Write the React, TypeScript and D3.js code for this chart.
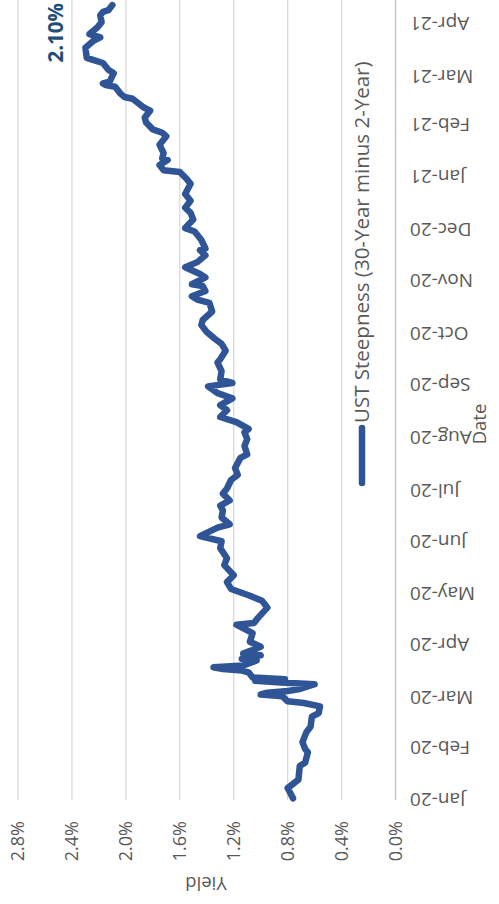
import React, { useEffect, useRef } from 'react';
import * as d3 from 'd3';

// 30-Year minus 2-Year UST spread (percent)
const dates = [
    '2020-01-02', '2020-01-08', '2020-01-13', '2020-01-21', '2020-01-23', '2020-01-29', '2020-01-31',
    '2020-02-04', '2020-02-10', '2020-02-13', '2020-02-19', '2020-02-21', '2020-02-25', '2020-02-27', '2020-02-28',
    '2020-03-02', '2020-03-03', '2020-03-04', '2020-03-05', '2020-03-06', '2020-03-09', '2020-03-10', '2020-03-11',
    '2020-03-12', '2020-03-13', '2020-03-16', '2020-03-17', '2020-03-18', '2020-03-19', '2020-03-20', '2020-03-23',
    '2020-03-24', '2020-03-26', '2020-03-27', '2020-03-31',
    '2020-04-03', '2020-04-08', '2020-04-13', '2020-04-14', '2020-04-17', '2020-04-23', '2020-04-27', '2020-04-30',
    '2020-05-04', '2020-05-08', '2020-05-12', '2020-05-18', '2020-05-22', '2020-05-28',
    '2020-06-01', '2020-06-04', '2020-06-09', '2020-06-11', '2020-06-15', '2020-06-19', '2020-06-22', '2020-06-25', '2020-06-29',
    '2020-07-02', '2020-07-07', '2020-07-10', '2020-07-14', '2020-07-20', '2020-07-22', '2020-07-27', '2020-07-31',
    '2020-08-04', '2020-08-06', '2020-08-10', '2020-08-13', '2020-08-17', '2020-08-20', '2020-08-24', '2020-08-27', '2020-08-31',
    '2020-09-02', '2020-09-04', '2020-09-09', '2020-09-14', '2020-09-16', '2020-09-21', '2020-09-25', '2020-09-28',
    '2020-10-02', '2020-10-06', '2020-10-09', '2020-10-14', '2020-10-19', '2020-10-21', '2020-10-23', '2020-10-26', '2020-10-29', '2020-10-30',
    '2020-11-03', '2020-11-05', '2020-11-09', '2020-11-12', '2020-11-16', '2020-11-19', '2020-11-20', '2020-11-25', '2020-11-30',
    '2020-12-02', '2020-12-07', '2020-12-11', '2020-12-14', '2020-12-18', '2020-12-22', '2020-12-28', '2020-12-31',
    '2021-01-04', '2021-01-05', '2021-01-08', '2021-01-11', '2021-01-12', '2021-01-15', '2021-01-20', '2021-01-25', '2021-01-27', '2021-01-29',
    '2021-02-02', '2021-02-05', '2021-02-09', '2021-02-11', '2021-02-16', '2021-02-17', '2021-02-19', '2021-02-23', '2021-02-24', '2021-02-25', '2021-02-26',
    '2021-03-03', '2021-03-05', '2021-03-09', '2021-03-11', '2021-03-12', '2021-03-18', '2021-03-22', '2021-03-24', '2021-03-26', '2021-03-30',
    '2021-04-02', '2021-04-06', '2021-04-08', '2021-04-09', '2021-04-12'
];

const spread = [
    0.76, 0.80, 0.72, 0.71, 0.67, 0.65, 0.67,
    0.69, 0.66, 0.63, 0.62, 0.57, 0.56, 0.68, 0.80,
    0.84, 1.00, 0.95, 0.80, 0.72, 0.60, 0.85, 1.04,
    0.82, 1.06, 1.09, 1.14, 1.28, 1.35, 1.13, 1.03,
    1.14, 1.00, 1.13, 1.00,
    1.08, 1.06, 1.18, 1.05, 1.02, 0.95, 0.99, 1.08,
    1.22, 1.25, 1.20, 1.27, 1.25, 1.30,
    1.29, 1.45, 1.32, 1.23, 1.29, 1.28, 1.30, 1.23, 1.28,
    1.25, 1.22, 1.17, 1.19, 1.15, 1.10, 1.12, 1.10,
    1.12, 1.09, 1.18, 1.30, 1.25, 1.30, 1.21, 1.32, 1.39,
    1.21, 1.30, 1.29, 1.32, 1.30, 1.26, 1.29, 1.34,
    1.40, 1.44, 1.43, 1.36, 1.38, 1.47, 1.51, 1.41, 1.43, 1.51,
    1.41, 1.45, 1.56, 1.47, 1.41, 1.45, 1.41, 1.44, 1.49,
    1.56, 1.50, 1.52, 1.56, 1.52, 1.56, 1.52, 1.55,
    1.60, 1.72, 1.75, 1.69, 1.73, 1.72, 1.75, 1.70, 1.73, 1.80,
    1.85, 1.86, 1.82, 1.87, 1.95, 2.01, 2.04, 2.08, 2.15, 2.17, 2.12,
    2.09, 2.13, 2.17, 2.25, 2.29, 2.30, 2.24, 2.19, 2.27, 2.21,
    2.18, 2.19, 2.17, 2.13, 2.10
];

const yTicks = [0, 0.4, 0.8, 1.2, 1.6, 2.0, 2.4, 2.8];
const xStart = '2020-01-01';
const xEnd = '2021-04-15';
const seriesName = 'UST Steepness (30-Year minus 2-Year)';
const xTitle = 'Date';
const yTitle = 'Yield';
const lastLabel = '2.10%';

// chart is laid out as a normal 904x499 chart, then turned 90° counter-clockwise
const W = 904;
const H = 499;
const FONT = '"Open Sans", sans-serif';
const TEXT = '#595959';

const App = () => {
    const svgRef = useRef(null);

    useEffect(() => {
        const svg = d3.select(svgRef.current);
        svg.selectAll('*').remove();

        const g = svg.append('g').attr('transform', `translate(0, ${W}) rotate(-90)`);

        const parse = d3.timeParse('%Y-%m-%d');
        const data = dates.map((d, i) => ({ date: parse(d), value: spread[i] }));

        const x = d3.scaleTime().domain([parse(xStart), parse(xEnd)]).range([104, 904]);
        const y = d3.scaleLinear().domain([0, 2.8]).range([395.5, 18]);

        // gridlines
        g.append('g')
            .selectAll('line')
            .data(yTicks)
            .join('line')
            .attr('x1', 104)
            .attr('x2', 904)
            .attr('y1', d => y(d))
            .attr('y2', d => y(d))
            .attr('stroke', d => (d === 0 ? '#bfbfbf' : '#d9d9d9'))
            .attr('stroke-width', 1.3);

        // y tick labels
        g.append('g')
            .selectAll('text')
            .data(yTicks)
            .join('text')
            .attr('x', 83)
            .attr('y', d => y(d))
            .attr('dy', '0.35em')
            .attr('text-anchor', 'end')
            .attr('font-family', FONT)
            .attr('font-size', 18)
            .attr('fill', TEXT)
            .text(d => d3.format('.1f')(d) + '%');

        // month labels, rotated like Excel does
        const months = d3.timeMonth.range(parse(xStart), d3.timeDay.offset(parse('2021-04-01'), 1));
        const fmt = d3.timeFormat('%b-%y');
        g.append('g')
            .selectAll('text')
            .data(months)
            .join('text')
            .attr('transform', d => `translate(${x(d)}, 410) rotate(-90)`)
            .attr('dy', '0.35em')
            .attr('text-anchor', 'end')
            .attr('font-family', FONT)
            .attr('font-size', 19)
            .attr('fill', TEXT)
            .text(d => fmt(d));

        // axis titles
        g.append('text')
            .attr('transform', 'translate(27, 206) rotate(-90)')
            .attr('text-anchor', 'middle')
            .attr('font-family', FONT)
            .attr('font-size', 18.5)
            .attr('fill', TEXT)
            .text(yTitle);

        g.append('text')
            .attr('x', 480)
            .attr('y', 486)
            .attr('text-anchor', 'middle')
            .attr('font-family', FONT)
            .attr('font-size', 18.5)
            .attr('fill', TEXT)
            .text(xTitle);

        // series
        const line = d3
            .line()
            .x(d => x(d.date))
            .y(d => y(d.value));

        g.append('path')
            .datum(data)
            .attr('d', line)
            .attr('fill', 'none')
            .attr('stroke', '#2f5597')
            .attr('stroke-width', 6.5)
            .attr('stroke-linejoin', 'round')
            .attr('stroke-linecap', 'round');

        // last value label
        const last = data[data.length - 1];
        g.append('text')
            .attr('x', x(last.date) + 2)
            .attr('y', y(last.value) - 49)
            .attr('text-anchor', 'end')
            .attr('font-family', FONT)
            .attr('font-size', 20.5)
            .attr('font-weight', 'bold')
            .attr('fill', '#1f4e79')
            .text(lastLabel);

        // legend
        g.append('line')
            .attr('x1', 421)
            .attr('x2', 476)
            .attr('y1', 362)
            .attr('y2', 362)
            .attr('stroke', '#2f5597')
            .attr('stroke-width', 6.5)
            .attr('stroke-linecap', 'round');

        g.append('text')
            .attr('x', 481)
            .attr('y', 369)
            .attr('font-family', FONT)
            .attr('font-size', 20.5)
            .attr('fill', TEXT)
            .text(seriesName);
    }, []);

    return (
        <svg
            ref={svgRef}
            width={H}
            height={W}
            style={{ position: 'absolute', left: 0, top: 0, background: '#fff' }}
        />
    );
};

export default App;
